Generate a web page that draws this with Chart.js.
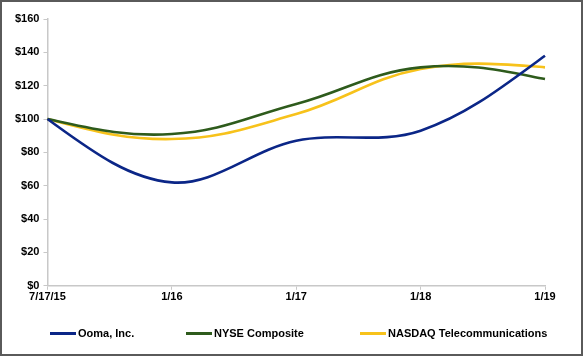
<!DOCTYPE html>
<html><head><meta charset="utf-8">
<script src="https://cdn.jsdelivr.net/npm/chart.js@4/dist/chart.umd.min.js"></script>
<style>
html,body{margin:0;padding:0;background:#fff;}
#frame{position:absolute;left:0;top:0;width:579px;height:352px;border:2px solid #5a5a5a;}
canvas{position:absolute;left:0;top:0;}
#legend{position:absolute;top:326px;left:0;width:585px;height:16px;font:bold 11px Arial,'Liberation Sans',sans-serif;color:#000;}
.item{position:absolute;top:0;display:flex;align-items:center;height:14px;white-space:nowrap;}
.sw{display:inline-block;width:26px;height:3px;margin-right:2px;}
</style></head><body>
<div id="frame"></div>
<canvas id="c" width="585" height="356"></canvas>
<div id="legend"></div>
<script>
const categories = ["7/17/15", "1/16", "1/17", "1/18", "1/19"];
const ooma = [100, 62, 87, 93, 138];
const nyse = [100, 91, 109, 131, 124];
const nasdaq = [100, 88, 103, 130, 131];
const yTicks = [0, 20, 40, 60, 80, 100, 120, 140, 160];
const seriesNames = ["Ooma, Inc.", "NYSE Composite", "NASDAQ Telecommunications"];
const colors = ["#0b2687", "#2e5b1c", "#f7c21b"];
const legendX = [50, 186, 360];

const font = {family: "Arial, 'Liberation Sans', sans-serif", size: 11, weight: "bold"};
function ds(label, data, color, t) {
  return {label, data, borderColor: color, backgroundColor: color, borderWidth: 2.6,
    pointRadius: 0, tension: t, fill: false};
}
// natural-spline style end tangents (zero curvature at both ends), like the office smoothing
const naturalEnds = {
  id: "naturalEnds",
  beforeDatasetDraw(chart, args) {
    const meta = args.meta, line = meta.dataset;
    line.updateControlPoints(chart.chartArea, meta.controller._cachedMeta.iScale ? "x" : "x");
    const pts = line.points;
    const n = pts.length;
    if (n < 3) return;
    const p0 = pts[0], p1 = pts[1];
    let h = p1.x - p0.x;
    let m1 = (p1.y - p1.cp1y) / (p1.x - p1.cp1x);
    let d = (p1.y - p0.y) / h;
    let m0 = (3 * d - m1) / 2;
    p0.cp2x = p0.x + h / 3; p0.cp2y = p0.y + m0 * h / 3;
    const q0 = pts[n - 2], q1 = pts[n - 1];
    h = q1.x - q0.x;
    let mq = (q0.cp2y - q0.y) / (q0.cp2x - q0.x);
    d = (q1.y - q0.y) / h;
    let mn = (3 * d - mq) / 2;
    q1.cp1x = q1.x - h / 3; q1.cp1y = q1.y - mn * h / 3;
  }
};
new Chart(document.getElementById("c"), {
  type: "line",
  data: {labels: categories, datasets: [
    ds(seriesNames[0], ooma, colors[0], 0.35),
    ds(seriesNames[1], nyse, colors[1], 0.4),
    ds(seriesNames[2], nasdaq, colors[2], 0.4)
  ]},
  plugins: [naturalEnds],
  options: {
    responsive: false, animation: false,
    layout: {padding: {left: 11, right: 40, top: 19, bottom: 51}},
    plugins: {legend: {display: false}, tooltip: {enabled: false}},
    scales: {
      x: {offset: false,
        grid: {drawOnChartArea: false, drawTicks: true, tickLength: 4, color: "#c8c8c8"},
        border: {display: true, color: "#c8c8c8", width: 1.5},
        ticks: {color: "#000", font, maxRotation: 0, padding: 1}},
      y: {min: 0, max: 160,
        afterBuildTicks: (s) => { s.ticks = yTicks.map(v => ({value: v})); },
        grid: {drawOnChartArea: false, drawTicks: true, tickLength: 4, color: "#c8c8c8"},
        border: {display: true, color: "#c8c8c8", width: 1.5},
        ticks: {color: "#000", font, padding: 4, callback: (v) => "$" + v}}
    }
  }
});
const lg = document.getElementById("legend");
seriesNames.forEach((n, i) => {
  const d = document.createElement("div");
  d.className = "item"; d.style.left = legendX[i] + "px";
  d.innerHTML = '<span class="sw" style="background:' + colors[i] + '"></span><span></span>';
  d.lastChild.textContent = n;
  lg.appendChild(d);
});
</script></body></html>
